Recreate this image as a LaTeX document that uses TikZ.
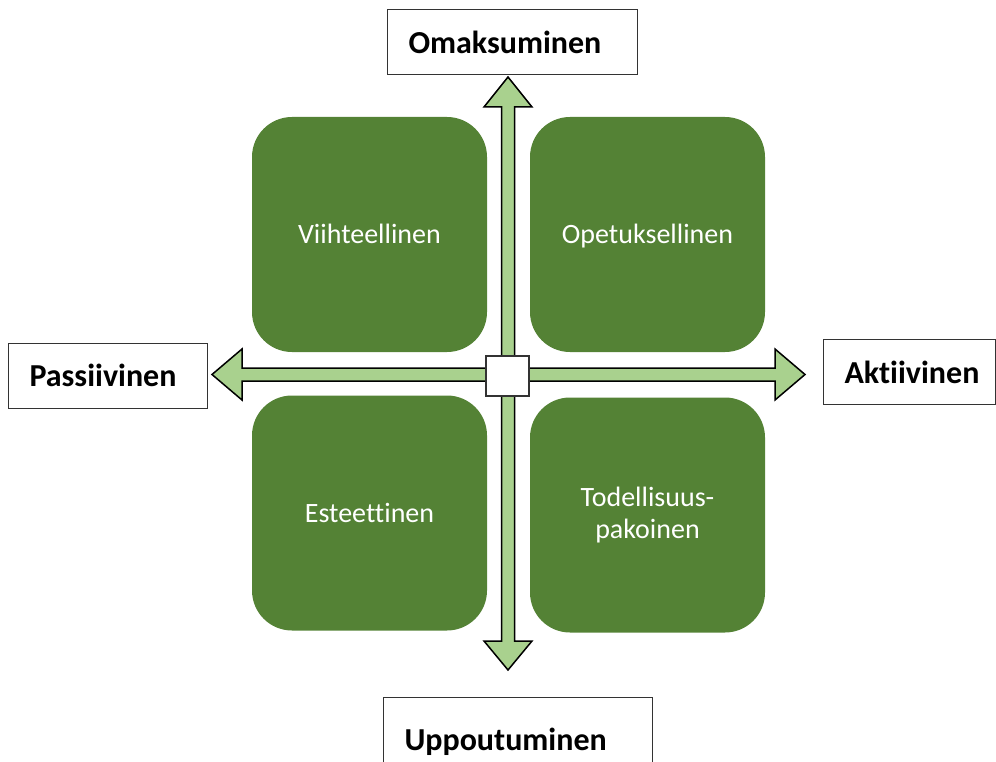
\documentclass[tikz,border=0pt]{standalone}
\usepackage{fontspec}
\setmainfont[RawFeature={-liga;-clig;-calt}]{Carlito}
\definecolor{boxgreen}{HTML}{548235}
\definecolor{arrowgreen}{HTML}{A9D18E}
\tikzset{
    quad/.style={fill=boxgreen,rounded corners=40pt,minimum width=235pt,
        minimum height=235pt,text=white,align=center,
        font=\fontsize{28}{32}\selectfont},
    oneline/.style={text height=22pt,text depth=4pt},
    axislabel/.style={draw=black!80,line width=1pt,minimum height=65pt,
        inner xsep=21pt,align=left,anchor=west,
        font=\fontsize{32}{38}\selectfont\bfseries},
    blockarrow/.style={draw=black,fill=arrowgreen,line width=1.5pt,line join=miter}
}
\begin{document}
\begin{tikzpicture}[x=1pt,y=-1pt]
        \useasboundingbox (0,0) rectangle (996,762);
        \clip (0,0) rectangle (996,762);
        %% Quadrants
        \node[quad,oneline] (viihde) at (369.5,234.5) {Viihteellinen};
        \node[quad,oneline] (opetus) at (647.5,234.5) {Opetuksellinen};
        \node[quad,oneline] (este) at (369.5,513) {Esteettinen};
        \node[quad] (pako) at (647.5,515) {Todellisuus-\\pakoinen};
        %% Vertical axis
        \draw[blockarrow] (508,77) -- (532,107) -- (514.5,107) -- (514.5,641)
            -- (532,641) -- (508,670) -- (484,641) -- (501.5,641)
            -- (501.5,107) -- (484,107) -- cycle;
        %% Horizontal axis
        \draw[blockarrow] (212,374.5) -- (242,349) -- (242,368) -- (775,368)
            -- (775,349) -- (805,374.5) -- (775,400) -- (775,381)
            -- (242,381) -- (242,400) -- cycle;
        %% Origin
        \node[draw=black!80,line width=1.2pt,fill=white,minimum width=43pt,
            minimum height=40pt,inner sep=0pt] (origo) at (507.5,376) {};
        %% Axis labels
        \node[axislabel,text width=208pt] (omak) at (387,42.5) {Omaksuminen};
        \node[axislabel,text width=157pt] (passiiv) at (8,375.5) {Passiivinen};
        \node[axislabel,text width=130pt] (aktiiv) at (823,372) {Aktiivinen};
        \node[axislabel,text width=227pt,minimum height=90pt] (uppout) at (383,742) {Uppoutuminen};
    \end{tikzpicture}
\end{document}
